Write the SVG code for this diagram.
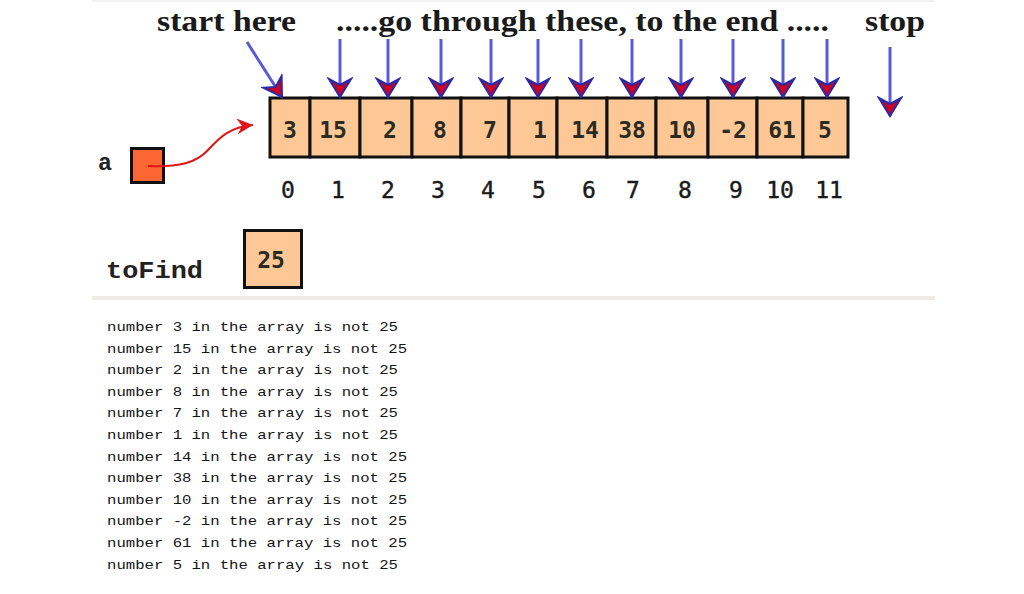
<svg xmlns="http://www.w3.org/2000/svg" width="1024" height="594" viewBox="0 0 1024 594">
<style>
.title{font-family:"Liberation Serif","Times New Roman",serif;font-weight:bold;font-size:29px;fill:#1a1a1a}
.cell{fill:#fdc896;stroke:#111;stroke-width:3}
.val{font-family:"DejaVu Sans Mono",monospace;font-weight:bold;font-size:23px;fill:#2b2b22;text-anchor:middle}
.idx{font-family:"DejaVu Sans Mono",monospace;font-size:23px;fill:#1a1a1a;stroke:#1a1a1a;stroke-width:0.4;text-anchor:middle}
.lbl{font-family:"Liberation Mono","Courier New",monospace;font-weight:bold;font-size:23px;fill:#222}
.out{font-family:"Liberation Mono","Courier New",monospace;font-size:13px;fill:#151515}
.stem{stroke:#5a5ad8;stroke-width:3;fill:none}
</style>
<defs>
<marker id="head" markerUnits="userSpaceOnUse" viewBox="-21 -13 23 26" markerWidth="23" markerHeight="26" refX="0" refY="0" orient="auto">
<path d="M0,0 L-18,-11 L-12,0 L-18,11 Z" fill="#cc0022" stroke="#2a2aa8" stroke-width="2" stroke-linejoin="miter"/>
</marker>
<marker id="redhead" markerUnits="userSpaceOnUse" viewBox="-18 -10 20 20" markerWidth="20" markerHeight="20" refX="0" refY="0" orient="auto">
<path d="M0,0 L-16,-8 L-11,0 L-16,8 Z" fill="#e01515"/>
</marker>
</defs>
<rect width="1024" height="594" fill="#fff"/>
<rect x="92" y="0" width="843" height="2" fill="#f2f2f2"/>
<rect x="92" y="296" width="843" height="4" fill="#efece6"/>

<g id="titles">
<text class="title" x="157" y="31" textLength="139" lengthAdjust="spacingAndGlyphs">start here</text>
<text class="title" x="336" y="31" textLength="493" lengthAdjust="spacingAndGlyphs">.....go through these, to the end .....</text>
<text class="title" x="865" y="31" textLength="60" lengthAdjust="spacingAndGlyphs">stop</text>
</g>

<g id="array">
<rect class="cell" x="270" y="98" width="40" height="59"/>
<rect class="cell" x="310" y="98" width="50" height="59"/>
<rect class="cell" x="360" y="98" width="52" height="59"/>
<rect class="cell" x="412" y="98" width="49" height="59"/>
<rect class="cell" x="461" y="98" width="48" height="59"/>
<rect class="cell" x="509" y="98" width="48" height="59"/>
<rect class="cell" x="557" y="98" width="50" height="59"/>
<rect class="cell" x="607" y="98" width="49" height="59"/>
<rect class="cell" x="656" y="98" width="52" height="59"/>
<rect class="cell" x="708" y="98" width="49" height="59"/>
<rect class="cell" x="757" y="98" width="46" height="59"/>
<rect class="cell" x="803" y="98" width="45" height="59"/>
<text class="val" x="290" y="138">3</text>
<text class="val" x="333" y="138">15</text>
<text class="val" x="390" y="138">2</text>
<text class="val" x="440" y="138">8</text>
<text class="val" x="490" y="138">7</text>
<text class="val" x="540" y="138">1</text>
<text class="val" x="585" y="138">14</text>
<text class="val" x="632" y="138">38</text>
<text class="val" x="682" y="138">10</text>
<text class="val" x="733" y="138">-2</text>
<text class="val" x="782" y="138">61</text>
<text class="val" x="825" y="138">5</text>
</g>

<g id="indices">
<text class="idx" x="288" y="198">0</text>
<text class="idx" x="338" y="198">1</text>
<text class="idx" x="388" y="198">2</text>
<text class="idx" x="438" y="198">3</text>
<text class="idx" x="488" y="198">4</text>
<text class="idx" x="539" y="198">5</text>
<text class="idx" x="589" y="198">6</text>
<text class="idx" x="633" y="198">7</text>
<text class="idx" x="685" y="198">8</text>
<text class="idx" x="736" y="198">9</text>
<text class="idx" x="780" y="198">10</text>
<text class="idx" x="829" y="198">11</text>
</g>

<g id="pointer-a">
<text class="lbl" x="98" y="170" textLength="14" lengthAdjust="spacingAndGlyphs">a</text>
<rect x="131.5" y="148.5" width="32" height="34" fill="#fb6633" stroke="#111" stroke-width="3"/>
</g>

<g id="toFind">
<text class="lbl" x="106" y="278" textLength="97" lengthAdjust="spacingAndGlyphs">toFind</text>
<rect x="244.5" y="230.5" width="57" height="57" fill="#fdc896" stroke="#111" stroke-width="3"/>
<text class="val" x="271" y="268">25</text>
</g>

<g id="connectors">
<path d="M148,166 C180,167 196,163 208,150 C220,137 230,127 253,125" fill="none" stroke="#e01515" stroke-width="2" marker-end="url(#redhead)"/>
<line class="stem" x1="247" y1="42" x2="282" y2="97" marker-end="url(#head)"/>
<line class="stem" x1="340" y1="39" x2="340" y2="97" marker-end="url(#head)"/>
<line class="stem" x1="388" y1="39" x2="388" y2="97" marker-end="url(#head)"/>
<line class="stem" x1="441" y1="39" x2="441" y2="97" marker-end="url(#head)"/>
<line class="stem" x1="491" y1="39" x2="491" y2="97" marker-end="url(#head)"/>
<line class="stem" x1="538" y1="39" x2="538" y2="97" marker-end="url(#head)"/>
<line class="stem" x1="581" y1="39" x2="581" y2="97" marker-end="url(#head)"/>
<line class="stem" x1="632" y1="39" x2="632" y2="97" marker-end="url(#head)"/>
<line class="stem" x1="681" y1="39" x2="681" y2="97" marker-end="url(#head)"/>
<line class="stem" x1="733" y1="39" x2="733" y2="97" marker-end="url(#head)"/>
<line class="stem" x1="783" y1="39" x2="783" y2="97" marker-end="url(#head)"/>
<line class="stem" x1="827" y1="39" x2="827" y2="97" marker-end="url(#head)"/>
<line class="stem" x1="890" y1="47" x2="890" y2="116" marker-end="url(#head)"/>
</g>

<g id="output">
<text class="out" x="107" y="331" textLength="291" lengthAdjust="spacingAndGlyphs">number 3 in the array is not 25</text>
<text class="out" x="107" y="353" textLength="300" lengthAdjust="spacingAndGlyphs">number 15 in the array is not 25</text>
<text class="out" x="107" y="374" textLength="291" lengthAdjust="spacingAndGlyphs">number 2 in the array is not 25</text>
<text class="out" x="107" y="396" textLength="291" lengthAdjust="spacingAndGlyphs">number 8 in the array is not 25</text>
<text class="out" x="107" y="417" textLength="291" lengthAdjust="spacingAndGlyphs">number 7 in the array is not 25</text>
<text class="out" x="107" y="439" textLength="291" lengthAdjust="spacingAndGlyphs">number 1 in the array is not 25</text>
<text class="out" x="107" y="461" textLength="300" lengthAdjust="spacingAndGlyphs">number 14 in the array is not 25</text>
<text class="out" x="107" y="482" textLength="300" lengthAdjust="spacingAndGlyphs">number 38 in the array is not 25</text>
<text class="out" x="107" y="504" textLength="300" lengthAdjust="spacingAndGlyphs">number 10 in the array is not 25</text>
<text class="out" x="107" y="525" textLength="300" lengthAdjust="spacingAndGlyphs">number -2 in the array is not 25</text>
<text class="out" x="107" y="547" textLength="300" lengthAdjust="spacingAndGlyphs">number 61 in the array is not 25</text>
<text class="out" x="107" y="569" textLength="291" lengthAdjust="spacingAndGlyphs">number 5 in the array is not 25</text>
</g>
</svg>
